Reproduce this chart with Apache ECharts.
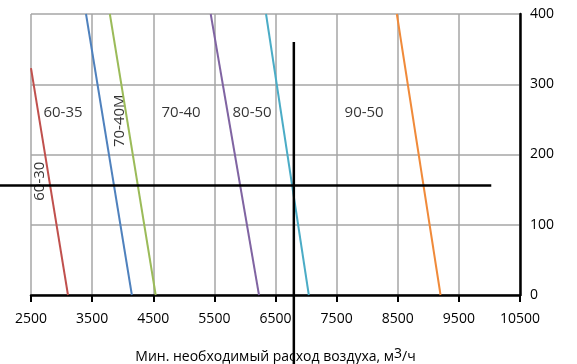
<!DOCTYPE html>
<html><head><meta charset="utf-8">
<script src="https://cdn.jsdelivr.net/npm/echarts@6/dist/echarts.min.js"></script>
<style>html,body{margin:0;padding:0;background:#fff}#c{width:577px;height:364px}</style>
</head><body><div id="c"></div>
<script>
const seriesNames = ['60-30','60-35','70-40M','80-50','70-40-teal','90-50'];
const line6030 = [[2500,323],[3105,0]];
const line6035 = [[3400,400],[4150,0]];
const line7040M = [[3790,400],[4540,0]];
const line8050 = [[5440,400],[6230,0]];
const lineTeal = [[6345,400],[7045,0]];
const line9050 = [[8485,400],[9200,0]];
// reference lines: [x1, y1, x2, y2]
const refLines = [[1990,156,10030,156],[6800,360,6800,-100]];
const zoneLabels = [
  {name:'60-35', value:[3024,260], rot:0},
  {name:'70-40', value:[4955,260], rot:0},
  {name:'80-50', value:[6117,260], rot:0},
  {name:'90-50', value:[7950,260], rot:0},
  {name:'70-40M', value:[3957,248], rot:90},
  {name:'60-30', value:[2647,162], rot:90}
];
const colors = ['#c0504d','#4f81bd','#9bbb59','#8064a2','#4bacc6','#f08a3a'];
const lines = [line6030,line6035,line7040M,line8050,lineTeal,line9050];
const FONT = '"Open Sans", sans-serif';
const chart = echarts.init(document.getElementById('c'));
const series = [];
series.push({type:'scatter', symbolSize:0, clip:false, z:1,
  data: zoneLabels.map(z=>({name:z.name, value:z.value, label:{rotate:z.rot}})),
  label:{show:true, position:'inside', formatter:p=>p.name, color:'#000', fontSize:15, fontFamily:FONT}
});
lines.forEach((d,i)=>series.push({
  type:'line', name:seriesNames[i], data:d, symbol:'none', silent:true, z:2,
  lineStyle:{color:colors[i], width:2}
}));
series.push({type:'custom', clip:false, z:3, data:refLines,
  renderItem:(params, api)=>{
    const a = api.coord([api.value(0), api.value(1)]);
    const b = api.coord([api.value(2), api.value(3)]);
    return {type:'line', shape:{x1:a[0], y1:a[1], x2:b[0], y2:b[1]}, style:{stroke:'#000', lineWidth:2.5}};
  },
  encode:{x:[0,2], y:[1,3]}
});
chart.setOption({
  animation:false,
  grid:{left:31, right:57, top:14, bottom:69, containLabel:false, outerBoundsMode:'none'},
  xAxis:{type:'value', min:2500, max:10500, interval:1000,
    axisLine:{lineStyle:{color:'#000', width:2.5}},
    axisTick:{show:true, inside:false, length:7, lineStyle:{color:'#000', width:2}},
    axisLabel:{color:'#000', fontSize:14, fontFamily:FONT, margin:17, formatter:v=>String(v)},
    splitLine:{show:true, lineStyle:{color:'#a6a6a6', width:1.5}},
    name:'Мин. необходимый расход воздуха, м{s|3}/ч', nameLocation:'middle', nameGap:52,
    nameTextStyle:{color:'#000', fontSize:14, fontFamily:FONT,
      rich:{s:{fontSize:14, fontFamily:FONT, verticalAlign:'top', padding:[0,0,6,0]}}}
  },
  yAxis:{type:'value', position:'right', min:0, max:400, interval:100,
    axisLine:{show:true, lineStyle:{color:'#000', width:2.5}},
    axisTick:{show:false},
    axisLabel:{color:'#000', fontSize:14, fontFamily:FONT, margin:10, formatter:v=>String(v)},
    splitLine:{show:true, lineStyle:{color:'#a6a6a6', width:1.5}}
  },
  series
});
</script></body></html>
